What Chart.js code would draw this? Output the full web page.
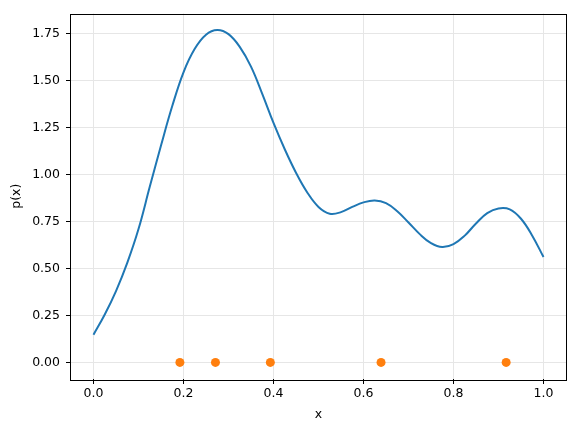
<!DOCTYPE html>
<html>
<head>
<meta charset="utf-8">
<script src="https://cdn.jsdelivr.net/npm/chart.js@4"></script>
<style>
  body { margin: 0; background: #fff; }
  #wrap { width: 576px; height: 424px; }
</style>
</head>
<body>
<div id="wrap"><canvas id="densityChart" width="576" height="424"></canvas></div>
<script>
// ===== data =====
const curveX = [0.00, 0.025, 0.05, 0.075, 0.10, 0.125, 0.15, 0.175, 0.20, 0.225, 0.25, 0.275, 0.30, 0.325,
                0.35, 0.375, 0.40, 0.425, 0.45, 0.475, 0.50, 0.525, 0.55, 0.575, 0.60, 0.625, 0.65, 0.675,
                0.70, 0.725, 0.75, 0.775, 0.80, 0.825, 0.85, 0.875, 0.90, 0.925, 0.95, 0.975, 1.00];
const curveY = [0.147, 0.255, 0.38, 0.53, 0.71, 0.935, 1.155, 1.365, 1.545, 1.67, 1.745, 1.77, 1.748, 1.68,
                1.575, 1.43, 1.275, 1.135, 1.01, 0.905, 0.828, 0.792, 0.80, 0.828, 0.852, 0.862, 0.848, 0.805,
                0.745, 0.683, 0.635, 0.614, 0.63, 0.675, 0.74, 0.795, 0.82, 0.815, 0.765, 0.675, 0.561];
const sampleX = [0.192, 0.271, 0.393, 0.639, 0.917];
const sampleY = [0, 0, 0, 0, 0];
const xTicks = [0, 0.2, 0.4, 0.6, 0.8, 1.0];
const yTicks = [0, 0.25, 0.5, 0.75, 1.0, 1.25, 1.5, 1.75];

const FONT = { family: '"DejaVu Sans", sans-serif', size: 12.5 };

// box around the plot area (matplotlib spines)
const frame = {
    id: 'frame',
    afterDraw(chart) {
        const a = chart.chartArea;
        const c = chart.ctx;
        c.save();
        c.strokeStyle = '#000';
        c.lineWidth = 1;
        c.strokeRect(Math.round(a.left) - 0.5, Math.round(a.top) + 0.5,
                     Math.round(a.right - a.left) + 1, Math.round(a.bottom - a.top));
        c.restore();
    }
};

const ctx = document.getElementById('densityChart').getContext('2d');
window.densityChart = new Chart(ctx, {
    type: 'scatter',
    data: {
        datasets: [
            {
                data: curveX.map((x, i) => ({ x: x, y: curveY[i] })),
                showLine: true,
                borderColor: '#1f77b4',
                borderWidth: 2,
                pointRadius: 0,
                tension: 0.4,
                order: 2
            },
            {
                data: sampleX.map((x, i) => ({ x: x, y: sampleY[i] })),
                showLine: false,
                backgroundColor: '#ff7f0e',
                borderColor: '#ff7f0e',
                pointRadius: 4.5,
                borderWidth: 0,
                order: 1
            }
        ]
    },
    options: {
        responsive: false,
        animation: false,
        devicePixelRatio: 1,
        layout: { padding: { top: 9, right: 10, left: 0, bottom: 0 } },
        plugins: { legend: { display: false }, tooltip: { enabled: false } },
        scales: {
            x: {
                type: 'linear',
                min: -0.05, max: 1.05,
                afterBuildTicks: s => { s.ticks = xTicks.map(v => ({ value: v })); },
                afterFit: s => { s.height = 45; },
                border: { display: false },
                grid: { color: '#e6e6e6', lineWidth: 1, tickColor: '#000', tickLength: 5, tickWidth: 1 },
                ticks: { color: '#000', font: FONT, padding: 2, maxRotation: 0,
                         callback: v => Number(v).toFixed(1) },
                title: { display: true, text: 'x', color: '#000', font: FONT, padding: { top: 0, bottom: 2 } }
            },
            y: {
                type: 'linear',
                min: -0.0885, max: 1.858,
                afterBuildTicks: s => { s.ticks = yTicks.map(v => ({ value: v })); },
                afterFit: s => { s.width = 71; },
                border: { display: false },
                grid: { color: '#e6e6e6', lineWidth: 1, tickColor: '#000', tickLength: 5, tickWidth: 1 },
                ticks: { color: '#000', font: FONT, padding: 6,
                         callback: v => Number(v).toFixed(2) },
                title: { display: true, text: 'p(x)', color: '#000', font: FONT, padding: { top: 9, bottom: 0 } }
            }
        }
    },
    plugins: [frame]
});
</script>
</body>
</html>
